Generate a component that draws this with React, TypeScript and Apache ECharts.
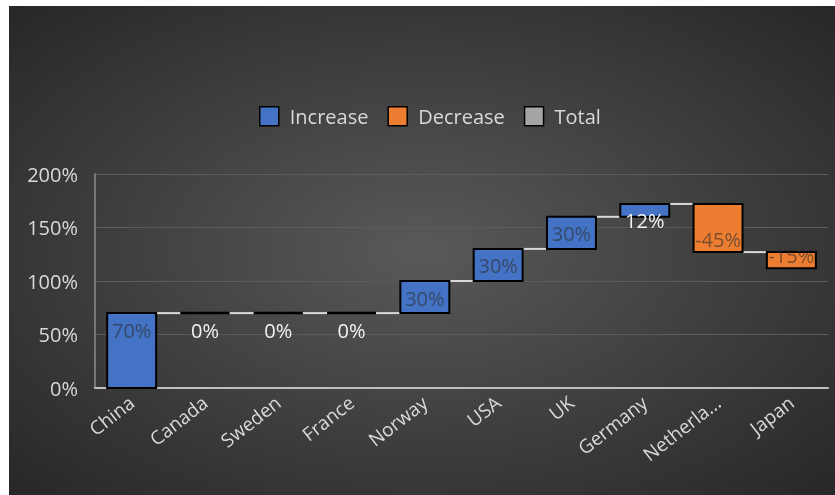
import React, { useEffect, useRef } from 'react';
import * as echarts from 'echarts';

const categories = ['China', 'Canada', 'Sweden', 'France', 'Norway', 'USA', 'UK', 'Germany', 'Netherlands', 'Japan'];
const changes = [70, 0, 0, 0, 30, 30, 30, 12, -45, -15];
const yTicks = [0, 50, 100, 150, 200];
const legendNames = ['Increase', 'Decrease', 'Total'];

const FONT = '"Open Sans", sans-serif';
const BAR_RATIO = 0.668;

export default function App() {
  const ref = useRef<HTMLDivElement>(null);
  useEffect(() => {
    const chart = echarts.init(ref.current!, null, { renderer: 'svg' });

    const starts: number[] = [];
    const ends: number[] = [];
    let run = 0;
    changes.forEach((c) => {
      starts.push(run);
      run += c;
      ends.push(run);
    });
    const incData: number[][] = [];
    const decData: number[][] = [];
    const connData: number[][] = [];
    changes.forEach((c, i) => {
      const item = [i, starts[i], ends[i], c];
      if (c >= 0) incData.push(item);
      else decData.push(item);
      if (i < changes.length - 1) connData.push([i, ends[i]]);
    });

    const barRender = (fill: string) => (params: any, api: any) => {
      const i = api.value(0);
      const s = api.value(1);
      const e = api.value(2);
      const c = api.value(3);
      const band = api.size([1, 0])[0];
      const w = band * BAR_RATIO;
      const p0 = api.coord([i, s]);
      const p1 = api.coord([i, e]);
      const x = p0[0] - w / 2;
      const top = Math.min(p0[1], p1[1]);
      const h = Math.abs(p1[1] - p0[1]);
      const children: any[] = [];
      if (h < 0.5) {
        children.push({
          type: 'line',
          shape: { x1: x, y1: p1[1], x2: x + w, y2: p1[1] },
          style: { stroke: '#000', lineWidth: 2.5 },
        });
      } else {
        children.push({
          type: 'rect',
          shape: { x, y: top, width: w, height: h },
          style: { fill, stroke: '#000', lineWidth: 2 },
        });
      }
      const inside = Math.abs(c) >= 15;
      const ly = c >= 0 ? p1[1] + 17 : p1[1] - 13;
      children.push({
        type: 'text',
        x: p0[0],
        y: ly,
        z2: 10,
        style: {
          text: `${c}%`,
          fill: inside ? 'rgba(45,45,45,0.6)' : '#f2f2f2',
          font: `20px ${FONT}`,
          align: 'center',
          verticalAlign: 'middle',
        },
      });
      return { type: 'group', children };
    };

    const connRender = (params: any, api: any) => {
      const i = api.value(0);
      const v = api.value(1);
      const band = api.size([1, 0])[0];
      const w = band * BAR_RATIO;
      const a = api.coord([i, v]);
      const b = api.coord([i + 1, v]);
      return {
        type: 'line',
        shape: { x1: a[0] + w / 2, y1: a[1], x2: b[0] - w / 2, y2: b[1] },
        style: { stroke: '#d9d9d9', lineWidth: 2 },
      };
    };

    chart.setOption({
      animation: false,
      backgroundColor: {
        type: 'radial',
        x: 0.5,
        y: 0.5,
        r: 0.75,
        colorStops: [
          { offset: 0, color: '#595959' },
          { offset: 1, color: '#242424' },
        ],
      },
      textStyle: { fontFamily: FONT },
      legend: {
        data: legendNames,
        left: 245,
        top: 95,
        itemWidth: 19,
        itemHeight: 19,
        itemGap: 19,
        icon: 'rect',
        itemStyle: { borderColor: '#000', borderWidth: 1.5 },
        textStyle: { color: '#d9d9d9', fontSize: 20, fontFamily: FONT, padding: [0, 0, 0, 6] },
      },
      grid: { left: 86, right: 7, top: 168, bottom: 107, containLabel: false },
      xAxis: {
        type: 'category',
        data: categories,
        axisTick: { show: false },
        axisLine: { show: true, lineStyle: { color: '#bfbfbf', width: 2 } },
        axisLabel: {
          interval: 0,
          rotate: 38,
          color: '#d9d9d9',
          fontSize: 19,
          fontFamily: FONT,
          margin: 12,
          formatter: (v: string) => (v.length > 9 ? v.slice(0, 8) + '...' : v),
        },
      },
      yAxis: {
        type: 'value',
        min: yTicks[0],
        max: yTicks[yTicks.length - 1],
        interval: 50,
        axisLine: { show: true, lineStyle: { color: '#8c8c8c', width: 1.5 } },
        axisTick: { show: false },
        splitLine: { lineStyle: { color: '#5c5c5c', width: 1 } },
        axisLabel: {
          formatter: '{value}%',
          color: '#d9d9d9',
          fontSize: 20,
          fontFamily: FONT,
          margin: 17,
        },
      },
      series: [
        {
          type: 'custom',
          name: 'connectors',
          renderItem: connRender,
          data: connData,
          z: 1,
          silent: true,
        },
        {
          type: 'custom',
          name: 'Increase',
          renderItem: barRender('#4472C4'),
          itemStyle: { color: '#4472C4', borderColor: '#000', borderWidth: 1.5 },
          data: incData,
          z: 2,
        },
        {
          type: 'custom',
          name: 'Decrease',
          renderItem: barRender('#ED7D31'),
          itemStyle: { color: '#ED7D31', borderColor: '#000', borderWidth: 1.5 },
          data: decData,
          z: 2,
        },
        {
          type: 'custom',
          name: 'Total',
          renderItem: barRender('#A5A5A5'),
          itemStyle: { color: '#A5A5A5', borderColor: '#000', borderWidth: 1.5 },
          data: [],
          z: 2,
        },
      ],
    });
    return () => chart.dispose();
  }, []);

  return (
    <div
      ref={ref}
      style={{ position: 'fixed', left: 9, top: 6, width: 826, height: 489 }}
    />
  );
}
